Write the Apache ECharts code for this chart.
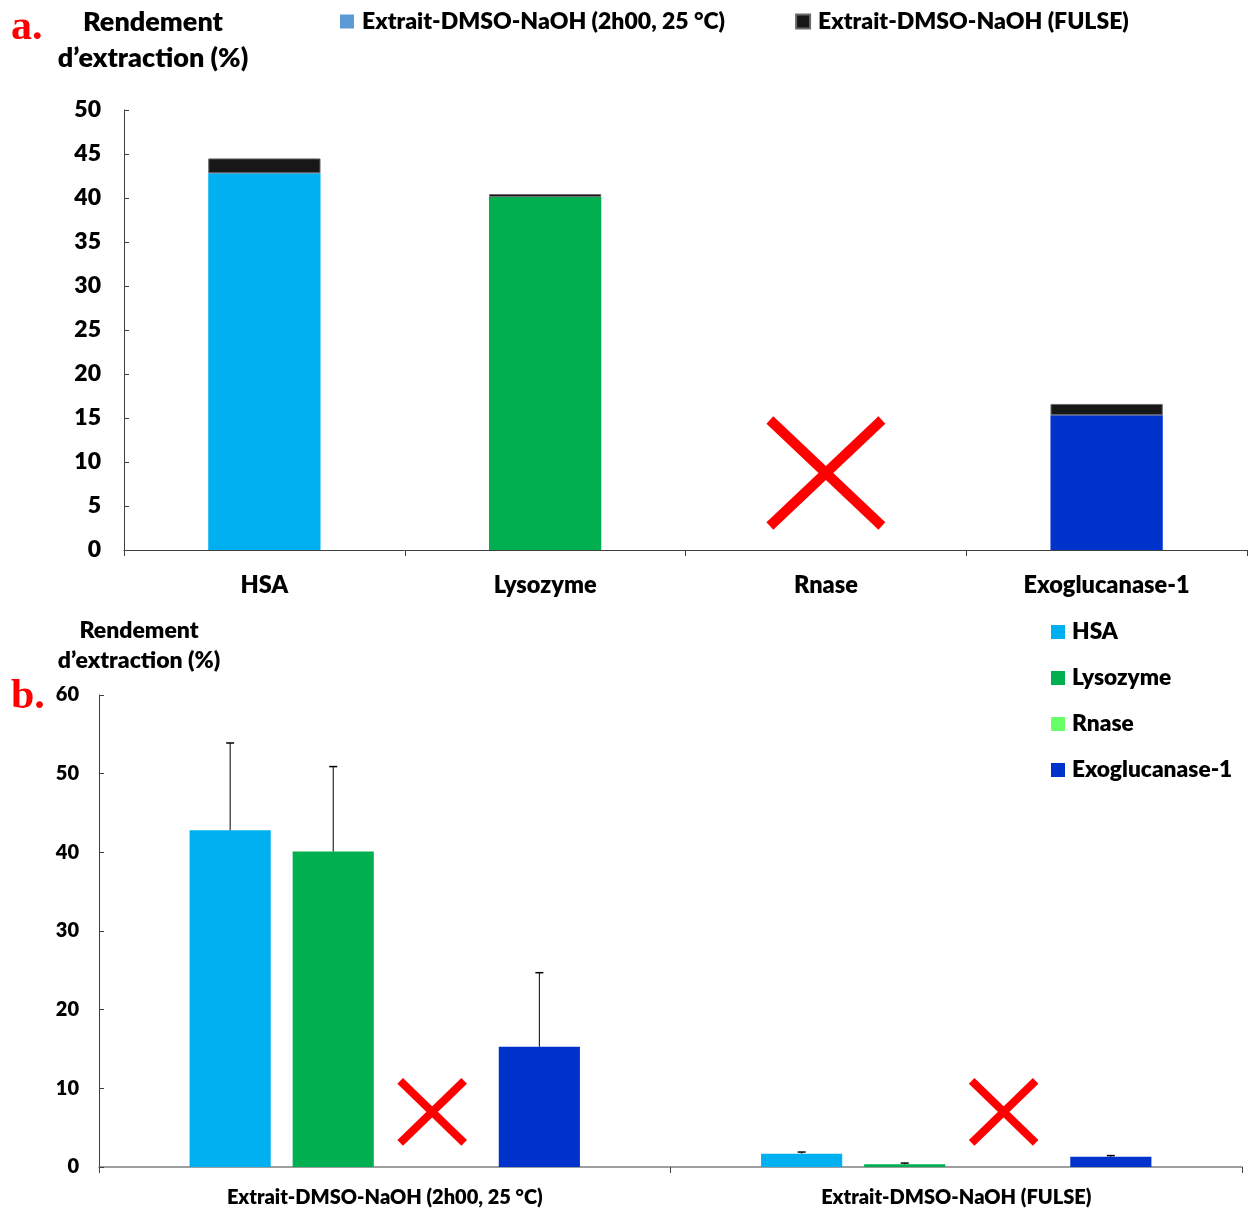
<!DOCTYPE html>
<html>
<head>
<meta charset="utf-8">
<script src="https://cdn.jsdelivr.net/npm/echarts@6/dist/echarts.min.js"></script>
<style>
html,body{margin:0;padding:0;background:#fff;}
#main{width:1248px;height:1212px;}
</style>
</head>
<body>
<div id="main"></div>
<script>
// ---------- data ----------
const proteins = ['HSA', 'Lysozyme', 'Rnase', 'Exoglucanase-1'];
const extracts = ['Extrait-DMSO-NaOH (2h00, 25 °C)', 'Extrait-DMSO-NaOH (FULSE)'];
// yields per protein, [2h00 25°C, FULSE]
const hsaYield = [42.8, 1.7];
const lysYield = [40.1, 0.35];
const rnaseYield = [null, null];   // not detected (red cross)
const exoYield = [15.3, 1.3];
// standard deviations
const hsaErr = [11.1, 0.2];
const lysErr = [10.8, 0.15];
const rnaseErr = [null, null];
const exoErr = [9.4, 0.15];
const yTicksA = [0, 5, 10, 15, 20, 25, 30, 35, 40, 45, 50];
const yTicksB = [0, 10, 20, 30, 40, 50, 60];

// ---------- styles ----------
const protColors = ['#00B0F0', '#00B050', '#66FF66', '#0033CC'];
const FONT = 'Lato';
const FW = 800;
const allYields = [hsaYield, lysYield, rnaseYield, exoYield];
const allErrs = [hsaErr, lysErr, rnaseErr, exoErr];

const chart = echarts.init(document.getElementById('main'), null, {renderer: 'canvas'});

const BW_B = 0.142, GAP_B = 0.27;

function crossRender(size, lw) {
  return function (params, api) {
    const c = api.coord([api.value(0), api.value(1)]);
    let x = c[0];
    if (api.value(2) !== undefined && !isNaN(api.value(2))) {
      const catW = api.size([1, 0])[0];
      const bw = catW * BW_B;
      x += api.value(2) * bw * (1 + GAP_B);
    }
    const hx = size[0] / 2, hy = size[1] / 2;
    return {type: 'group', children: [
      {type: 'line', shape: {x1: x - hx, y1: c[1] - hy, x2: x + hx, y2: c[1] + hy}, style: {stroke: '#FF0000', lineWidth: lw}},
      {type: 'line', shape: {x1: x - hx, y1: c[1] + hy, x2: x + hx, y2: c[1] - hy}, style: {stroke: '#FF0000', lineWidth: lw}}
    ]};
  };
}

const seriesA = [
  {
    name: extracts[0], type: 'bar', stack: 'a', xAxisIndex: 0, yAxisIndex: 0,
    barWidth: '40%', color: '#5B9BD5',
    data: proteins.map((p, i) => ({value: allYields[i][0], itemStyle: {color: protColors[i]}}))
  },
  {
    name: extracts[1], type: 'bar', stack: 'a', xAxisIndex: 0, yAxisIndex: 0,
    barWidth: '40%', color: '#171717',
    itemStyle: {color: '#171717', borderColor: '#6b6b6b', borderWidth: 1},
    data: proteins.map((p, i) => allYields[i][1])
  },
  {
    name: 'crossA', type: 'custom', xAxisIndex: 0, yAxisIndex: 0, z: 10,
    renderItem: crossRender([112, 106], 10),
    data: proteins.map((p, i) => i).filter(i => allYields[i][0] === null).map(i => [i, 8.75])
  }
];

const seriesB = proteins.map((p, k) => ({
  name: p, type: 'bar', xAxisIndex: 1, yAxisIndex: 1,
  barWidth: (BW_B * 100) + '%', barGap: (GAP_B * 100) + '%',
  color: protColors[k],
  data: allYields[k].slice()
}));

const errSeries = proteins.map((p, k) => ({
  name: 'err-' + p, type: 'custom', xAxisIndex: 1, yAxisIndex: 1, z: 10,
  renderItem: function (params, api) {
    const idx = api.value(0), v = api.value(1), e = api.value(2);
    const catW = api.size([1, 0])[0];
    const bw = catW * BW_B;
    const off = (k - 1.5) * bw * (1 + GAP_B);
    const b = api.coord([idx, v]);
    const t = api.coord([idx, v + e]);
    const x = b[0] + off;
    return {type: 'group', children: [
      {type: 'line', shape: {x1: x, y1: b[1], x2: x, y2: t[1]}, style: {stroke: '#000', lineWidth: 1}},
      {type: 'line', shape: {x1: x - 4, y1: t[1], x2: x + 4, y2: t[1]}, style: {stroke: '#000', lineWidth: 1.5}}
    ]};
  },
  data: extracts.map((c, i) => [i, allYields[k][i], allErrs[k][i]]).filter(d => d[1] !== null)
}));

const crossB = {
  name: 'crossB', type: 'custom', xAxisIndex: 1, yAxisIndex: 1, z: 10,
  renderItem: crossRender([64, 62], 8),
  data: extracts.map((c, i) => [i, 7, 0.46]).filter((d, i) => rnaseYield[i] === null)
};

const option = {
  animation: false,
  backgroundColor: '#ffffff',
  textStyle: {fontFamily: FONT},
  title: [
    {text: 'a.', left: 6, top: 2, textStyle: {fontFamily: 'Liberation Serif', fontWeight: 'bold', fontSize: 42, color: '#FF0000'}},
    {text: 'b.', left: 6, top: 671, textStyle: {fontFamily: 'Liberation Serif', fontWeight: 'bold', fontSize: 42, color: '#FF0000'}},
    {text: 'Rendement\nd’extraction (%)', left: 148, top: -1, textAlign: 'center',
      textStyle: {fontFamily: FONT, fontWeight: FW, fontSize: 27, lineHeight: 36, color: '#000', align: 'center'}},
    {text: 'Rendement\nd’extraction (%)', left: 134, top: 611, textAlign: 'center',
      textStyle: {fontFamily: FONT, fontWeight: FW, fontSize: 23, lineHeight: 30, color: '#000', align: 'center'}}
  ],
  legend: [
    {
      data: extracts, left: 340, top: 10, padding: 0, itemWidth: 14, itemHeight: 14, itemGap: 70,
      icon: 'rect',
      textStyle: {fontFamily: FONT, fontWeight: FW, fontSize: 23, color: '#000', padding: [0, 0, 0, 3]}
    },
    {
      data: proteins, orient: 'vertical', left: 1051, top: 620, padding: 0, itemWidth: 14, itemHeight: 14, itemGap: 22,
      icon: 'rect',
      textStyle: {fontFamily: FONT, fontWeight: FW, fontSize: 22.7, lineHeight: 24, color: '#000', padding: [0, 0, 0, 2]}
    }
  ],
  grid: [
    {left: 124, top: 110, width: 1123, height: 440, containLabel: false},
    {left: 99, top: 695, width: 1143, height: 472, containLabel: false}
  ],
  xAxis: [
    {
      type: 'category', gridIndex: 0, data: proteins,
      axisLine: {lineStyle: {color: '#404040', width: 1}},
      axisTick: {show: true, length: 6, lineStyle: {color: '#404040'}},
      axisLabel: {fontFamily: FONT, fontWeight: FW, fontSize: 23.5, color: '#000', margin: 23}
    },
    {
      type: 'category', gridIndex: 1, data: extracts,
      axisLine: {lineStyle: {color: '#7f7f7f', width: 1.5}},
      axisTick: {show: true, length: 6, lineStyle: {color: '#404040'}},
      axisLabel: {fontFamily: FONT, fontWeight: FW, fontSize: 20, color: '#000', margin: 21}
    }
  ],
  yAxis: [
    {
      type: 'value', gridIndex: 0, min: yTicksA[0], max: yTicksA[yTicksA.length - 1], interval: yTicksA[1] - yTicksA[0],
      splitLine: {show: false},
      axisLine: {show: true, lineStyle: {color: '#404040', width: 1}},
      axisTick: {show: true, inside: true, length: 5, lineStyle: {color: '#404040'}},
      axisLabel: {fontFamily: FONT, fontWeight: FW, fontSize: 23, color: '#000', margin: 23}
    },
    {
      type: 'value', gridIndex: 1, min: yTicksB[0], max: yTicksB[yTicksB.length - 1], interval: yTicksB[1] - yTicksB[0],
      splitLine: {show: false},
      axisLine: {show: true, lineStyle: {color: '#404040', width: 1}},
      axisTick: {show: true, inside: true, length: 5, lineStyle: {color: '#404040'}},
      axisLabel: {fontFamily: FONT, fontWeight: FW, fontSize: 20, color: '#000', margin: 20}
    }
  ],
  series: [].concat(seriesA, seriesB, errSeries, [crossB])
};

chart.setOption(option);
</script>
</body>
</html>
